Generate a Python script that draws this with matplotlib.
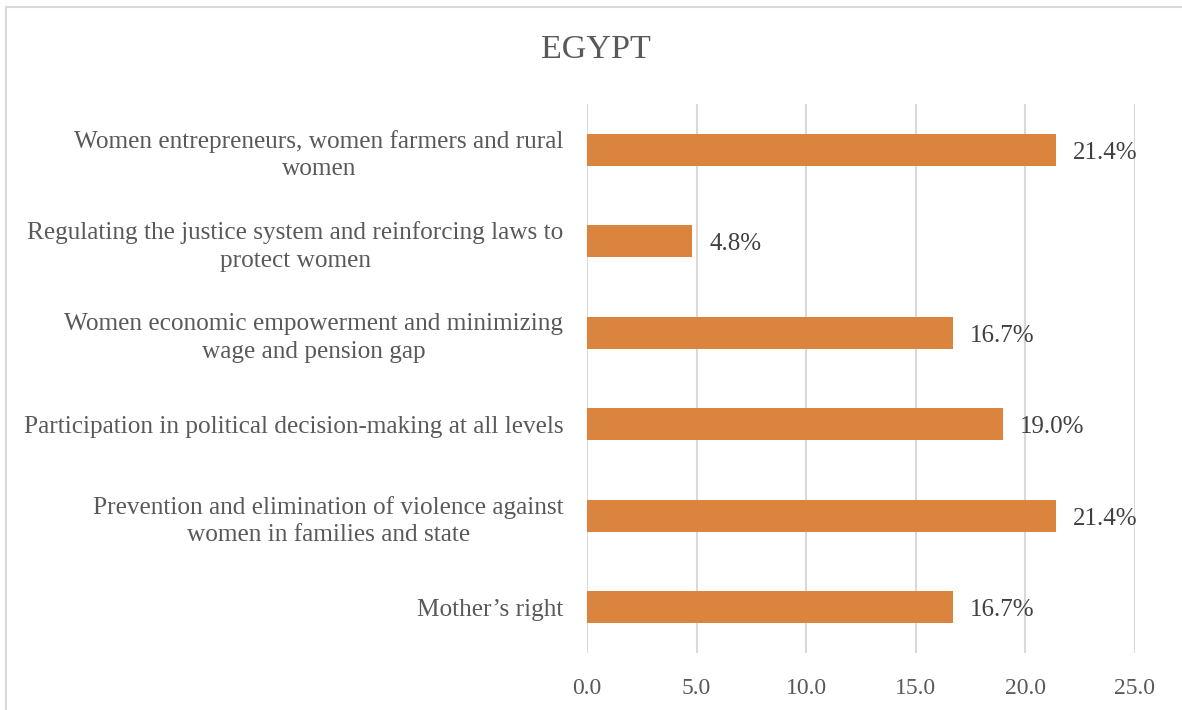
import matplotlib
matplotlib.use("Agg")
import matplotlib.pyplot as plt
from matplotlib.patches import Rectangle

categories = [
    "Women entrepreneurs, women farmers and rural\nwomen",
    "Regulating the justice system and reinforcing laws to\nprotect women",
    "Women economic empowerment and minimizing\nwage and pension gap",
    "Participation in political decision-making at all levels",
    "Prevention and elimination of violence against\nwomen in families and state",
    "Mother\u2019s right",
]
values = [21.4, 4.8, 16.7, 19.0, 21.4, 16.7]
value_labels = ["21.4%", "4.8%", "16.7%", "19.0%", "21.4%", "16.7%"]
x_ticks = [0, 5, 10, 15, 20, 25]
title = "EGYPT"

plt.rcParams["font.family"] = ["Liberation Serif", "DejaVu Serif"]

fig = plt.figure(figsize=(11.82, 7.10), dpi=100)
fig.patch.set_facecolor("white")

# chart frame
fig.patches.append(Rectangle((6 / 1182, -0.05), 1.1, 1 - 7 / 710 + 0.05,
                             transform=fig.transFigure, fill=False,
                             edgecolor="#D9D9D9", linewidth=1.5))

ax = fig.add_axes([587 / 1182, 57 / 710, (1134.5 - 587) / 1182, (606 - 57) / 710])
pos = list(range(len(categories)))[::-1]
ax.barh(pos, values, height=0.35, color="#DB843E", zorder=3)
ax.set_ylim(-0.5, len(categories) - 0.5)
ax.set_xlim(0, 25)
ax.set_xticks(x_ticks)
ax.set_xticklabels([f"{t:.1f}" for t in x_ticks], fontsize=17, color="#595959")
ax.set_yticks(pos)
ax.set_yticklabels(categories, fontsize=18.2, color="#595959",
                   multialignment="center", linespacing=1.32)
ax.tick_params(axis="both", length=0)
ax.tick_params(axis="y", pad=17)
ax.tick_params(axis="x", pad=18)
ax.grid(axis="x", color="#D9D9D9", linewidth=1.5, zorder=0)
for s in ax.spines.values():
    s.set_visible(False)

for p, v, lab in zip(pos, values, value_labels):
    ax.annotate(lab, (v, p), xytext=(17, -3), textcoords="offset pixels",
                va="center", ha="left", fontsize=18, color="#404040")

fig.text(596 / 1182, 1 - 50 / 710, title, ha="center", va="center",
         fontsize=24.5, color="#595959")

fig.savefig("out.png", dpi=100)
